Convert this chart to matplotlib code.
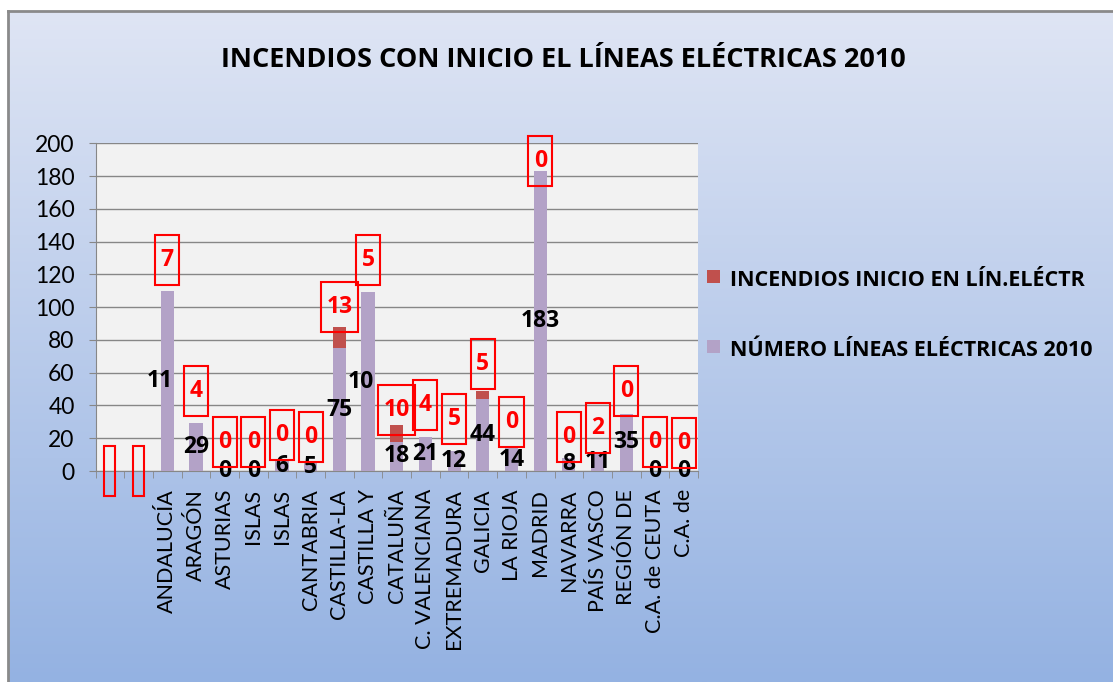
import numpy as np
import matplotlib
matplotlib.use("Agg")
import matplotlib.pyplot as plt
from matplotlib.patches import Rectangle

plt.rcParams['font.family'] = ['Lato', 'DejaVu Sans']
negrita = ['Open Sans', 'DejaVu Sans']

# datos
categorias = ["", "", "ANDALUCÍA", "ARAGÓN", "ASTURIAS", "ISLAS", "ISLAS",
              "CANTABRIA", "CASTILLA-LA", "CASTILLA Y", "CATALUÑA",
              "C. VALENCIANA", "EXTREMADURA", "GALICIA", "LA RIOJA", "MADRID",
              "NAVARRA", "PAÍS VASCO", "REGIÓN DE", "C.A. de CEUTA", "C.A. de"]
lineas = [0, 0, 110, 29, 0, 0, 6, 5, 75, 109, 18, 21, 12, 44, 14, 183,
          8, 11, 35, 0, 0]
# etiquetas negras tal como aparecen (algunas recortadas)
etiquetas_lineas = ["", "", "11", "29", "0", "0", "6", "5", "75", "10", "18",
                    "21", "12", "44", "14", "183", "8", "11", "35", "0", "0"]
# segmento rojo visible en las barras
incendios_barra = [0, 0, 0, 0, 0, 0, 0, 0, 13, 0, 10, 0, 0, 5, 0, 0,
                   0, 0, 0, 0, 0]
# etiquetas rojas en recuadro
incendios = ["", "", "7", "4", "0", "0", "0", "0", "13", "5", "10", "4",
             "5", "5", "0", "0", "0", "2", "0", "0", "0"]
# altura (en unidades del eje) del centro de cada recuadro rojo
altura_recuadro = [0, 0, 129, 49, 18, 18, 22, 21, 100, 129, 37, 40, 32, 65,
                   30, 189, 21, 26, 49, 18, 17]

serie_roja = "INCENDIOS INICIO EN LÍN.ELÉCTR"
serie_lila = "NÚMERO LÍNEAS ELÉCTRICAS 2010"
titulo = "INCENDIOS CON INICIO EL LÍNEAS ELÉCTRICAS 2010"

W, H = 1113, 682
fig = plt.figure(figsize=(W / 100, H / 100), dpi=100, facecolor='white')

# fondo degradado del area del grafico
bg = fig.add_axes([8 / W, 0, 1 - 8 / W, 1 - 11 / H])
top = np.array([223, 229, 244]) / 255
bot = np.array([148, 178, 226]) / 255
t = np.linspace(0, 1, 256)[:, None]
grad = top[None, :] * (1 - t) + bot[None, :] * t
bg.imshow(grad[:, None, :], aspect='auto', extent=[0, 1, 0, 1])
bg.set_xlim(0, 1)
bg.set_ylim(0, 1)
bg.set_xticks([])
bg.set_yticks([])
for s in ['right', 'bottom']:
    bg.spines[s].set_visible(False)
for s in ['top', 'left']:
    bg.spines[s].set_color('#8a8a8a')
    bg.spines[s].set_linewidth(2)

# area de trazado
x0, x1 = 95.5, 698
y0, y1 = 143.3, 471
ax = fig.add_axes([x0 / W, 1 - y1 / H, (x1 - x0) / W, (y1 - y0) / H])
ax.set_facecolor('#f2f2f2')
x = np.arange(len(categorias))

ax.bar(x, lineas, width=0.46, color='#b3a2c7', zorder=3)
ax.bar(x, incendios_barra, width=0.46, bottom=lineas, color='#c0504d', zorder=3)

ax.set_xlim(-0.5, len(categorias) - 0.5)
ax.set_ylim(0, 200)
ax.set_yticks(np.arange(0, 201, 20))
ax.yaxis.grid(True, color='#878787', linewidth=1, zorder=1)
ax.tick_params(axis='y', direction='out', length=5, color='#878787',
               labelsize=16.5, pad=10)
ax.set_xticks(x)
ax.set_xticklabels(categorias, rotation=90, fontsize=15.5)
ax.set_xticks(np.arange(-0.5, len(categorias), 1), minor=True)
ax.tick_params(axis='x', which='major', length=0, pad=13)
ax.tick_params(axis='x', which='minor', direction='out', length=5,
               color='#878787')
for s in ['top', 'right']:
    ax.spines[s].set_visible(False)
for s in ['left', 'bottom']:
    ax.spines[s].set_color('#878787')

# etiquetas negras
for i, (v, lab) in enumerate(zip(lineas, etiquetas_lineas)):
    if lab == "":
        continue
    xx = i - 0.25 if lab != str(v) else i
    ax.text(xx, v / 2, lab, ha='center', va='center', fontsize=16.5,
            fontweight='bold', family=negrita, color='black', zorder=5,
            clip_on=False)

# etiquetas rojas con recuadro
textos = []
for i, (lab, y) in enumerate(zip(incendios, altura_recuadro)):
    tx = ax.text(i, y, lab, ha='center', va='center', fontsize=16.5,
                 fontweight='bold', family=negrita, color='red', zorder=6,
                 clip_on=False)
    textos.append(tx)

fig.canvas.draw()
renderer = fig.canvas.get_renderer()
px_cat = ax.get_window_extent().width / len(categorias)
px_val = ax.get_window_extent().height / 200
for i, tx in enumerate(textos):
    wpx = tx.get_window_extent(renderer).width if incendios[i] else 0
    w = (wpx + 11) / px_cat
    h = 50 / px_val
    ax.add_patch(Rectangle((i - w / 2, altura_recuadro[i] - h / 2), w, h,
                           fill=False, edgecolor='red', linewidth=1.5,
                           zorder=6, clip_on=False))

# titulo
fig.text(563.5 / W, 1 - 67 / H, titulo, ha='center', va='baseline',
         fontsize=19.5, fontweight='bold', family=negrita)

# leyenda
for yc, col, lab in [(276.5, '#c0504d', serie_roja), (346.5, '#b3a2c7', serie_lila)]:
    fig.patches.append(Rectangle((707 / W, 1 - (yc + 6.5) / H), 13 / W, 13 / H,
                                 transform=fig.transFigure, facecolor=col,
                                 edgecolor='none'))
    fig.text(730 / W, 1 - (yc + 3.5) / H, lab, ha='left', va='center',
             fontsize=15.5, fontweight='bold', family=negrita)

fig.savefig('out.png', dpi=100, facecolor='white')
